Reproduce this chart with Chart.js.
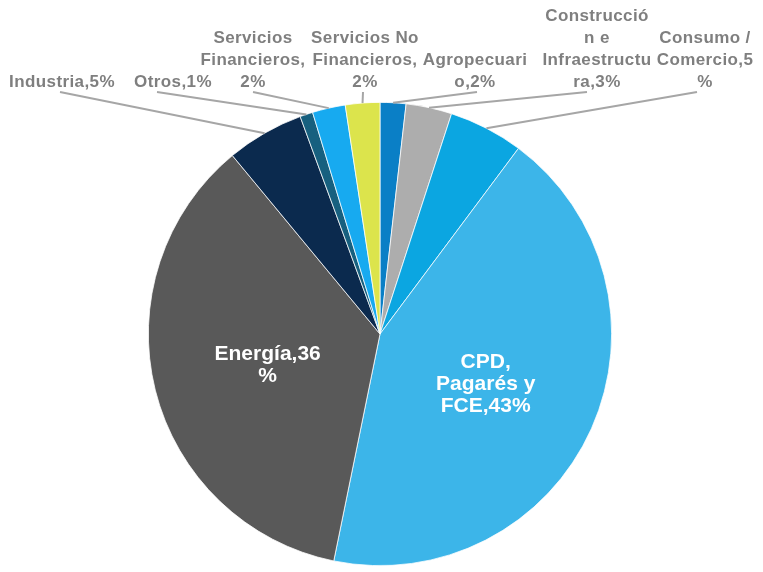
<!DOCTYPE html>
<html>
<head>
<meta charset="utf-8">
<script src="https://cdn.jsdelivr.net/npm/chart.js@4.4.0/dist/chart.umd.min.js"></script>
<style>
  html, body { margin: 0; background: #fff; }
  #wrap { width: 763px; height: 572px; }
</style>
</head>
<body>
<div id="wrap"><canvas id="pie"></canvas></div>
<script>
// Sectors, clockwise from 12 o'clock
const categories = ['Agropecuario', 'Construcción e Infraestructura', 'Consumo / Comercio',
  'CPD, Pagarés y FCE', 'Energía', 'Industria', 'Otros', 'Servicios Financieros', 'Servicios No Financieros'];
const shares = [1.8, 3.2, 5.2, 43.0, 35.8, 5.4, 0.9, 2.3, 2.4];
const sliceColors = ['#0A7FC6', '#ADADAD', '#0BA6E1', '#3CB5E9', '#595959', '#0B2A4E', '#17607F', '#17AAF0', '#DCE44C'];

// label text as wrapped in the original
const labelLines = [
  ['Agropecuari', 'o,2%'],
  ['Construcció', 'n e', 'Infraestructu', 'ra,3%'],
  ['Consumo /', 'Comercio,5', '%'],
  ['CPD,', 'Pagarés y', 'FCE,43%'],
  ['Energía,36', '%'],
  ['Industria,5%'],
  ['Otros,1%'],
  ['Servicios', 'Financieros,', '2%'],
  ['Servicios No', 'Financieros,', '2%'],
];
// outside labels: text centre x, last baseline y, leader start x (null = inside label)
const labelPlace = [
  { x: 475, y: 87, lx: 477 },
  { x: 597, y: 87, lx: 587 },
  { x: 705, y: 87, lx: 697 },
  null,
  null,
  { x: 62, y: 87, lx: 60 },
  { x: 173, y: 87, lx: 157 },
  { x: 253, y: 87, lx: 253 },
  { x: 365, y: 87, lx: 363 },
];

const FONT = "'Liberation Sans', Arial, sans-serif";

const pieLabels = {
  id: 'pieLabels',
  afterDatasetsDraw(chart) {
    const ctx = chart.ctx;
    const arcs = chart.getDatasetMeta(0).data;
    ctx.save();
    // leader lines first
    ctx.strokeStyle = '#A6A6A6';
    ctx.lineWidth = 2;
    arcs.forEach((arc, i) => {
      const p = labelPlace[i];
      if (!p) return;
      const { x, y, startAngle, endAngle, outerRadius } = arc.getProps(['x', 'y', 'startAngle', 'endAngle', 'outerRadius'], true);
      const mid = (startAngle + endAngle) / 2;
      ctx.beginPath();
      ctx.moveTo(p.lx, p.y + 5);
      ctx.lineTo(x + Math.cos(mid) * outerRadius, y + Math.sin(mid) * outerRadius);
      ctx.stroke();
    });
    ctx.textAlign = 'center';
    ctx.textBaseline = 'alphabetic';
    arcs.forEach((arc, i) => {
      const lines = labelLines[i];
      const p = labelPlace[i];
      if (p) {
        ctx.font = 'bold 17px ' + FONT;
        ctx.letterSpacing = '0.4px';
        ctx.fillStyle = '#7F7F7F';
        lines.forEach((t, k) => {
          ctx.fillText(t, p.x, p.y - (lines.length - 1 - k) * 22);
        });
      } else {
        const c = arc.tooltipPosition(true);
        ctx.font = 'bold 21px ' + FONT;
        ctx.letterSpacing = '0px';
        ctx.fillStyle = '#ffffff';
        const pitch = 22;
        const first = c.y - (lines.length - 1) * pitch / 2 + 9;
        lines.forEach((t, k) => ctx.fillText(t, c.x, first + k * pitch));
      }
    });
    ctx.restore();
  }
};

new Chart(document.getElementById('pie'), {
  type: 'pie',
  data: {
    labels: categories,
    datasets: [{
      data: shares,
      backgroundColor: sliceColors,
      borderColor: '#ffffff',
      borderWidth: 0.75,
    }]
  },
  options: {
    responsive: true,
    maintainAspectRatio: false,
    animation: false,
    layout: { padding: { top: 102, bottom: 6, left: 0, right: 3 } },
    plugins: { legend: { display: false }, tooltip: { enabled: false } },
  },
  plugins: [pieLabels]
});
</script>
</body>
</html>
